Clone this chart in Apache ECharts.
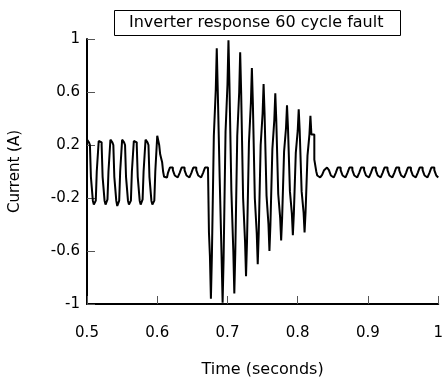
<!DOCTYPE html>
<html>
<head>
<meta charset="utf-8">
<script src="https://cdn.jsdelivr.net/npm/echarts@6/dist/echarts.min.js"></script>
<style>
html,body{margin:0;padding:0;background:#fff;}
#chart{width:446px;height:383px;}
</style>
</head>
<body>
<div id="chart"></div>
<script>
// Sample timing (seconds): first sample and sample spacing
const startTime = 0.5;
const sampleStep = 1 / 720;

// Current (A) samples, in order
const preFault = [
  0.24, 0.23, 0.22, 0.2, -0.04, -0.05, -0.22, -0.25, -0.24, -0.22, 0.0, 0.01,
  0.23, 0.23, 0.22, 0.2, -0.04, -0.05, -0.22, -0.25, -0.24, -0.21, 0.0, 0.01,
  0.24, 0.23, 0.22, 0.2, -0.04, -0.05, -0.22, -0.26, -0.24, -0.22, 0.0, 0.01,
  0.24, 0.23, 0.22, 0.2, -0.04, -0.05, -0.22, -0.25, -0.24, -0.22, 0.0, 0.01,
  0.23, 0.23, 0.22, 0.2, -0.04, -0.05, -0.22, -0.25, -0.24, -0.21, 0.0, 0.01,
  0.24, 0.23, 0.22, 0.2, -0.04, -0.05, -0.22, -0.25, -0.24, -0.22, 0.0, 0.01
];
const recoveryA = [
  0.27, 0.26, 0.2, 0.13, 0.13, 0.07, 0.0, -0.04, -0.045, -0.045, -0.03, -0.01,
  0.01, 0.03, 0.035, 0.03, 0.01, -0.01, -0.03, -0.045, -0.045, -0.045, -0.03, -0.01,
  0.01, 0.03, 0.035, 0.03, 0.01, -0.01, -0.03, -0.045, -0.045, -0.045, -0.03, -0.01,
  0.01, 0.03, 0.035, 0.03, 0.01, -0.01, -0.03, -0.045, -0.045, -0.045, -0.03, -0.01,
  0.01, 0.03, 0.035, 0.03, 0.02
];
const fault = [
  -0.46, -0.64, -0.96, -0.64, -0.63, 0.27, 0.27, 0.62, 0.93, 0.62, 0.61, -0.05, -0.05,
  -0.66, -0.99, -0.66, -0.65, 0.3, 0.3, 0.66, 0.99, 0.66, 0.65, -0.15, -0.15,
  -0.61, -0.92, -0.61, -0.6, 0.27, 0.27, 0.6, 0.9, 0.6, 0.59, -0.2, -0.2,
  -0.53, -0.79, -0.53, -0.52, 0.22, 0.22, 0.52, 0.78, 0.52, 0.51, -0.2, -0.2,
  -0.47, -0.7, -0.47, -0.46, 0.2, 0.2, 0.44, 0.66, 0.44, 0.43, -0.18, -0.18,
  -0.4, -0.6, -0.4, -0.39, 0.17, 0.17, 0.39, 0.59, 0.39, 0.38, -0.17, -0.17,
  -0.35, -0.52, -0.35, -0.34, 0.15, 0.15, 0.33, 0.5, 0.33, 0.33, -0.15, -0.15,
  -0.32, -0.48, -0.32, -0.31, 0.14, 0.14, 0.31, 0.47, 0.31, 0.3, -0.15, -0.15,
  -0.31, -0.46, -0.31, -0.3, 0.12, 0.12, 0.28, 0.42, 0.28, 0.28, 0.28, 0.09, 0.09
];
const recoveryB = [
  0.0, -0.03, -0.045, -0.045, -0.045, -0.04, -0.025, -0.01, 0.01, 0.025, 0.03, 0.035,
  0.03, 0.01, -0.01, -0.03, -0.045, -0.045, -0.045, -0.03, -0.01, 0.01, 0.03, 0.035,
  0.03, 0.01, -0.01, -0.03, -0.045, -0.045, -0.045, -0.03, -0.01, 0.01, 0.03, 0.035,
  0.03, 0.01, -0.01, -0.03, -0.045, -0.045, -0.045, -0.03, -0.01, 0.01, 0.03, 0.035,
  0.03, 0.01, -0.01, -0.03, -0.045, -0.045, -0.045, -0.03, -0.01, 0.01, 0.03, 0.035,
  0.03, 0.01, -0.01, -0.03, -0.045, -0.045, -0.045, -0.03, -0.01, 0.01, 0.03, 0.035,
  0.03, 0.01, -0.01, -0.03, -0.045, -0.045, -0.045, -0.03, -0.01, 0.01, 0.03, 0.035,
  0.03, 0.01, -0.01, -0.03, -0.045, -0.045, -0.045, -0.03, -0.01, 0.01, 0.03, 0.035,
  0.03, 0.01, -0.01, -0.03, -0.045, -0.045, -0.045, -0.03, -0.01, 0.01, 0.03, 0.035,
  0.03, 0.01, -0.01, -0.03, -0.045, -0.045, -0.045, -0.03, -0.01, 0.01, 0.03, 0.035,
  0.03, 0.01, -0.01, -0.03, -0.045, -0.045
];

const titleText = 'Inverter response 60 cycle fault';
const xName = 'Time (seconds)';
const yName = 'Current (A)';

const values = preFault.concat(recoveryA, fault, recoveryB);
const seriesData = values.map((v, i) => [startTime + i * sampleStep, v]);

const FONT = 'DejaVu Sans';
const chart = echarts.init(document.getElementById('chart'), null, {renderer: 'canvas'});
chart.setOption({
  animation: false,
  backgroundColor: '#ffffff',
  title: {
    text: titleText,
    left: 114,
    top: 10,
    padding: [3, 17, 4, 15],
    borderColor: '#000',
    borderWidth: 1,
    textStyle: {fontFamily: FONT, fontSize: 16, fontWeight: 'normal', color: '#000', lineHeight: 19}
  },
  grid: {left: 84, right: 1, top: 39, bottom: 77},
  xAxis: {
    type: 'value', min: 0.5, max: 1, interval: 0.1,
    name: xName, nameLocation: 'middle', nameGap: 58,
    nameTextStyle: {fontFamily: FONT, fontSize: 16, color: '#000'},
    axisLine: {onZero: false, lineStyle: {color: '#000', width: 2}},
    axisTick: {inside: true, length: 8, lineStyle: {color: '#555', width: 1}},
    axisLabel: {margin: 22, fontFamily: FONT, fontSize: 15, color: '#000'},
    splitLine: {show: false}
  },
  yAxis: {
    type: 'value', min: -1, max: 1, interval: 0.4,
    name: yName, nameLocation: 'middle', nameGap: 64,
    nameTextStyle: {fontFamily: FONT, fontSize: 15, color: '#000'},
    axisLine: {onZero: false, lineStyle: {color: '#000', width: 2}},
    axisTick: {inside: true, length: 8, lineStyle: {color: '#555', width: 1}},
    axisLabel: {margin: 7, fontFamily: FONT, fontSize: 15, color: '#000'},
    splitLine: {show: false}
  },
  series: [{
    type: 'line',
    data: seriesData,
    step: 'end',
    showSymbol: false,
    symbol: 'none',
    sampling: null,
    lineStyle: {color: '#000', width: 2},
    clip: true
  }]
});
</script>
</body>
</html>
